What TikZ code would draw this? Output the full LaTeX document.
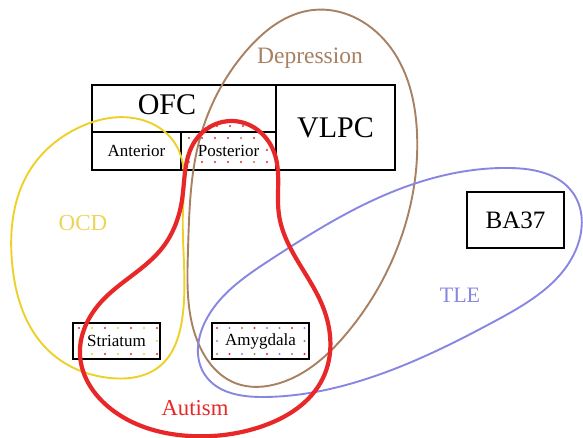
\documentclass[tikz,border=0pt]{standalone}
\usepackage{fontspec}
\setmainfont{Liberation Serif}
\usetikzlibrary{hobby}
\definecolor{ocd}{RGB}{238,208,40}
\definecolor{ocdtxt}{RGB}{236,214,90}
\definecolor{dep}{RGB}{168,128,98}
\definecolor{tle}{RGB}{135,135,225}
\definecolor{aut}{RGB}{232,40,40}
\begin{document}
\begin{tikzpicture}[x=1pt,y=-1pt,
  box/.style={draw=black,line width=1.8pt,inner sep=0pt},
  lbl/.style={inner sep=1pt,text=black},
  dotlbl/.style={inner sep=1pt,fill=white,text=black},
  region/.style={line width=1.9pt},
  dot/.style={radius=1.1}]
\useasboundingbox (0,0) rectangle (583,438);
\fill[white] (0,0) rectangle (583,438);
% boxes
\node[box,minimum width=184pt,minimum height=47pt] (ofc) at (184,108.5) {};
\node[box,minimum width=119pt,minimum height=85pt] (vlpc) at (335.5,127.5) {};
\node[box,minimum width=89pt,minimum height=38pt] (ant) at (136.5,151) {};
\node[box,minimum width=95pt,minimum height=38pt] (post) at (228.5,151) {};
\node[box,minimum width=97pt,minimum height=56pt] (ba) at (515.5,220) {};
\node[box,minimum width=87pt,minimum height=36pt] (str) at (116.5,341) {};
\node[box,minimum width=97pt,minimum height=36pt] (amy) at (260.5,341) {};
% dots
\foreach \i in {0,...,6}{\foreach \j in {0,1,2}{
  \pgfmathtruncatemacro\k{mod(\i+\j,2)}
  \ifnum\k=0 \def\c{aut}\else\def\c{ocd}\fi
  \fill[\c] ({79+\i*13},{328+\j*13}) circle[dot];}}
\foreach \i in {0,...,7}{\foreach \j in {0,1,2}{
  \pgfmathtruncatemacro\k{mod(\i+\j,3)}
  \ifnum\k=0 \def\c{aut}\else\ifnum\k=1 \def\c{tle}\else\def\c{dep}\fi\fi
  \fill[\c] ({217+\i*12.5},{328+\j*13}) circle[dot];}}
\foreach \i in {0,...,6}{\foreach \j in {0,1,2}{
  \pgfmathtruncatemacro\k{mod(\i+2*\j,5)}
  \ifnum\k=4 \def\c{dep}\else\def\c{aut}\fi
  \fill[\c] ({189+\i*13},{138+\j*12}) circle[dot];}}
\foreach \x in {217,230,243} \fill[aut] (\x,126) circle[dot];
% texts
\node[lbl,font=\fontsize{30}{32}\selectfont] (tofc) at (167,105) {OFC};
\node[lbl,font=\fontsize{30}{32}\selectfont] (tvlpc) at (vlpc.center) {VLPC};
\node[lbl,font=\fontsize{17}{19}\selectfont] (tant) at (ant.center) {Anterior};
\node[dotlbl,font=\fontsize{17}{19}\selectfont] (tpost) at (post.center) {Posterior};
\node[lbl,font=\fontsize{25}{27}\selectfont] (tba) at (ba.center) {BA37};
\node[dotlbl,font=\fontsize{17}{19}\selectfont] (tstr) at (str.center) {Striatum};
\node[dotlbl,font=\fontsize{17}{19}\selectfont] (tamy) at (amy.center) {Amygdala};
\node[text=dep,font=\fontsize{23.5}{25}\selectfont] (tdep) at (310,58) {Depression};
\node[text=ocdtxt,font=\fontsize{23}{25}\selectfont] (tocd) at (83,223) {OCD};
\node[text=tle,font=\fontsize{22}{24}\selectfont] (ttle) at (460,295) {TLE};
\node[text=aut,font=\fontsize{22.7}{24}\selectfont] (taut) at (195,408) {Autism};
% regions
\draw[region,ocd] plot[closed hobby] coordinates {(133,118) (176,145) (183,210) (182,320) (160,366) (110,378) (50,352) (12,262) (30,170) (80,127)};
\draw[region,dep] plot[closed hobby] coordinates {(313,10) (387,43) (417,133) (402,235) (347,333) (280,383) (235,383) (200,347) (188,250) (200,138) (247,50)};
\draw[region,tle] plot[closed hobby] coordinates {(510,168) (573,193) (577,247) (497,320) (363,380) (263,397) (205,375) (205,322) (270,260) (397,190)};
\draw[aut,line width=4.2pt] plot[closed hobby] coordinates {(233,121) (274,152) (279,215) (323,307) (323,378) (260,427) (190,436) (115,412) (80,355) (101,302) (163,247) (182,200) (195,141)};
\end{tikzpicture}
\end{document}
